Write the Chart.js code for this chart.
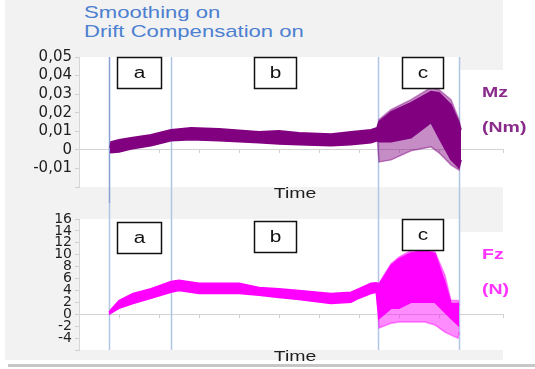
<!DOCTYPE html>
<html>
<head>
<meta charset="utf-8">
<script src="https://cdn.jsdelivr.net/npm/chart.js@4.4.1/dist/chart.umd.min.js"></script>
<style>
  html, body { margin: 0; padding: 0; background: #fff; }
  body { width: 535px; height: 369px; position: relative; overflow: hidden; }
  #panel { position: absolute; left: 5px; top: 0; width: 498px; height: 360px; background: #f2f2f2; }
  #rule { position: absolute; left: 8px; top: 364px; width: 527px; height: 3px; background: #c6c6c6; }
  .ttl { position: absolute; left: 84px; font: 17px "Liberation Sans", Arial, sans-serif; color: #4d80d1;
         transform: scaleX(1.3); transform-origin: 0 0; white-space: nowrap; }
  .wrap { position: absolute; left: 0; width: 535px; }
</style>
</head>
<body>
<div id="panel"></div>
<div id="rule"></div>
<div class="ttl" style="top:3px">Smoothing on</div>
<div class="ttl" style="top:22px">Drift Compensation on</div>
<div class="wrap" style="top:0;height:203px"><canvas id="mz" width="535" height="203"></canvas></div>
<div class="wrap" style="top:203px;height:166px"><canvas id="fz" width="535" height="166"></canvas></div>
<script>
// time axis (s) shared by both panels
const phaseTimes = [7.6, 23, 74.7, 95.1];
const boxLabels = ['a', 'b', 'c'];
const boxStart = [9.5, 43.75, 80.75];
const boxEnd = [20.5, 54.25, 91];

// Mz band (Nm): dense envelope
const mzTime = [7.75, 8, 10, 13, 18, 23, 28, 35, 45, 50, 55, 63, 68, 73, 74.5, 75, 78, 83, 88, 90, 93, 95, 95.5];
const mzHigh = [0.001, 0.0043, 0.0054, 0.0065, 0.0081, 0.0108, 0.0119, 0.0114, 0.0097, 0.0103, 0.0092, 0.0086, 0.0097, 0.0108, 0.0119, 0.0151, 0.0205, 0.0254, 0.0314, 0.0308, 0.0243, 0.0146, 0.0108];
const mzLow = [-0.001, -0.0016, -0.0011, 0.0005, 0.0022, 0.0049, 0.0054, 0.0049, 0.0038, 0.0032, 0.0027, 0.0022, 0.0027, 0.0038, 0.0049, 0.0043, 0.0043, 0.0065, 0.0146, 0.0065, -0.0054, -0.0097, -0.0054];
// Mz phase c: outer (sparse) envelope
const mzCTime = [74.6, 75, 78, 83, 88, 90, 93, 95, 95.5];
const mzCHigh = [0.0119, 0.0162, 0.0216, 0.027, 0.0335, 0.0324, 0.027, 0.0162, 0.0108];
const mzCLow = [0.0049, -0.0065, -0.0054, -0.0005, 0.0016, -0.0016, -0.0081, -0.0108, -0.0054];

// Fz band (N)
const fzTime = [7.5, 8, 10, 13.5, 18, 23, 25, 30, 35, 40, 45, 50, 55, 63, 68, 70, 73, 74.3, 75, 78, 80, 83, 86.5, 89, 91.5, 93, 94.75, 95];
const fzHigh = [0.3, 0.8, 2.3, 3.5, 4.3, 5.5, 5.7, 5.2, 5.2, 5.2, 4.5, 4.3, 4.0, 3.5, 3.7, 4.3, 5.2, 5.3, 5.0, 8.2, 9.3, 10.3, 10.7, 10.2, 5.3, 1.8, 1.8, 1.5];
const fzLow = [0, 0.2, 1.0, 1.8, 2.7, 3.7, 4.0, 3.5, 3.5, 3.5, 3.2, 2.8, 2.5, 1.8, 2.0, 2.7, 3.5, 3.7, -0.7, 1.0, 1.0, 2.0, 2.0, 2.0, 0.3, -0.7, -1.8, -2];
const fzCTime = [74.4, 75, 78, 80, 83, 86.5, 89, 91.5, 93, 94.75, 95];
const fzCHigh = [5.3, 5.2, 8.5, 9.6, 10.7, 11.0, 10.5, 6.5, 2.3, 2.3, 1.8];
const fzCLow = [3.7, -2.3, -1.5, -1.3, -1.3, -1.3, -1.8, -3.0, -3.5, -4.0, -3.0];

const MZ = '#800080', MZ_LIGHT = 'rgba(128,0,128,0.45)';
const FZ = '#ff00ff', FZ_LIGHT = 'rgba(255,0,255,0.45)';
const SX = 1.3; // the source screenshot is stretched sideways

function stretchedText(ctx, txt, x, y, font, color, centered) {
  ctx.save();
  ctx.font = font;
  ctx.fillStyle = color;
  ctx.textBaseline = 'middle';
  ctx.textAlign = 'left';
  const w = ctx.measureText(txt).width * SX;
  ctx.translate(centered ? x - w / 2 : x, y);
  ctx.scale(SX, 1);
  ctx.fillText(txt, 0, 0);
  ctx.restore();
}

const panelPlugin = {
  id: 'panel',
  beforeDraw(chart) {
    const { ctx, chartArea: a, scales: { x } } = chart;
    const edge = x.getPixelForValue(phaseTimes[3]);
    ctx.save();
    ctx.fillStyle = '#fff';
    ctx.fillRect(a.left, a.top, edge - a.left, a.bottom - a.top);
    ctx.fillRect(edge, a.top + 13, a.right - edge, a.bottom - a.top - 13);
    ctx.restore();
  },
  beforeDatasetsDraw(chart, args, opts) {
    const { ctx, chartArea: a, scales: { x } } = chart;
    const y0 = opts.down ? a.top : 0;
    const y1 = opts.down ? chart.height : a.bottom;
    ctx.save();
    ctx.lineWidth = 1.5;
    phaseTimes.forEach((t, i) => {
      const px = Math.round(x.getPixelForValue(t)) + 0.5;
      ctx.strokeStyle = (i === 0 && opts.down) ? '#86a0d4' : '#b0c4e6';
      ctx.beginPath();
      ctx.moveTo(px, y0);
      ctx.lineTo(px, y1);
      ctx.stroke();
    });
    ctx.restore();
  },
  afterDatasetsDraw(chart, args, opts) {
    const { ctx, chartArea: a, scales: { x } } = chart;
    ctx.save();
    boxLabels.forEach((lab, i) => {
      const l = Math.round(x.getPixelForValue(boxStart[i])) + 0.5;
      const r = Math.round(x.getPixelForValue(boxEnd[i])) + 0.5;
      const top = Math.round(a.top + opts.boxOffset[i]) + 0.5;
      ctx.fillStyle = '#fff';
      ctx.fillRect(l, top, r - l, 31);
      ctx.strokeStyle = '#111';
      ctx.lineWidth = 1.5;
      ctx.strokeRect(l, top, r - l, 31);
      stretchedText(ctx, lab, (l + r) / 2, top + 16, '16px "Liberation Sans", Arial', '#111', true);
    });
    stretchedText(ctx, opts.name, a.right - 21, a.top + 36, 'bold 15px "Liberation Sans", Arial', opts.color, false);
    stretchedText(ctx, opts.unit, a.right - 21, a.top + 71, 'bold 15px "Liberation Sans", Arial', opts.color, false);
    stretchedText(ctx, 'Time', x.getPixelForValue(54), a.bottom + 7, '15px "Liberation Sans", Arial', '#1e1e1e', true);
    ctx.restore();
  }
};

function band(times, hi, lo, color) {
  const common = { borderColor: color, backgroundColor: color, borderWidth: 1.5, pointRadius: 0, tension: 0 };
  return [
    Object.assign({ data: times.map((t, i) => ({ x: t, y: hi[i] })), fill: false }, common),
    Object.assign({ data: times.map((t, i) => ({ x: t, y: lo[i] })), fill: '-1' }, common)
  ];
}

function makeChart(id, datasets, yMin, yMax, yStep, fmt, pad, fontSize, plug) {
  return new Chart(document.getElementById(id), {
    type: 'line',
    data: { datasets },
    options: {
      responsive: false,
      animation: false,
      layout: { padding: pad },
      plugins: { legend: { display: false }, tooltip: { enabled: false }, panel: plug },
      scales: {
        x: {
          type: 'linear', min: 0, max: 106,
          position: { y: 0 },
          ticks: { display: false, stepSize: 10 },
          grid: { drawOnChartArea: false, tickLength: 3, color: '#cfcfcf' },
          border: { color: '#d4d4d4' }
        },
        y: {
          min: yMin, max: yMax,
          afterFit(s) { s.width = 79; },
          ticks: {
            stepSize: yStep, autoSkip: false, callback: fmt, color: '#1e1e1e', padding: 3,
            font: { family: 'DejaVu Sans', size: fontSize }
          },
          grid: { drawOnChartArea: false, tickLength: 4, color: '#cfcfcf' },
          border: { color: '#d6d6d6' }
        }
      }
    },
    plugins: [panelPlugin]
  });
}

const mzFmt = v => Math.abs(v + 0.02) < 1e-9 ? '' : (Math.abs(v) < 1e-9 ? '0' : v.toFixed(2).replace('.', ','));
const fzFmt = v => v === -6 ? '' : String(v);

makeChart('mz',
  band(mzTime, mzHigh, mzLow, MZ).concat(band(mzCTime, mzCHigh, mzCLow, MZ_LIGHT)),
  -0.02, 0.05, 0.01, mzFmt, { top: 57, right: 32, bottom: 16, left: 0 }, 15,
  { down: true, boxOffset: [0, 0, 0], name: 'Mz', unit: '(Nm)', color: '#8a2a8a' });

makeChart('fz',
  band(fzTime, fzHigh, fzLow, FZ).concat(band(fzCTime, fzCHigh, fzCLow, FZ_LIGHT)),
  -6, 16, 2, fzFmt, { top: 16, right: 32, bottom: 19, left: 0 }, 14,
  { down: false, boxOffset: [3, 2, 0], name: 'Fz', unit: '(N)', color: '#ff33ff' });
</script>
</body>
</html>
